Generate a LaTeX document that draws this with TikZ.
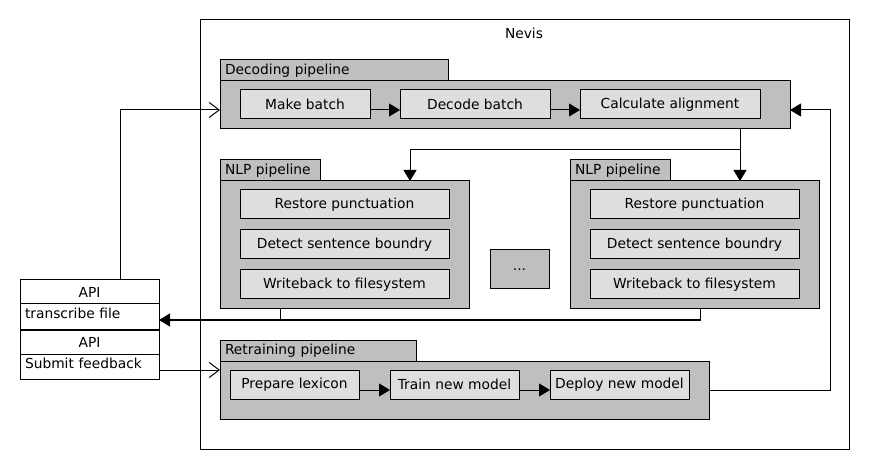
\documentclass[tikz,border=0pt]{standalone}
\usepackage{fontspec}
\setmainfont{DejaVu Sans}
\usetikzlibrary{arrows.meta,positioning}
\definecolor{pgray}{RGB}{191,191,191}
\definecolor{sgray}{RGB}{222,222,222}
\tikzset{
  base/.style={draw=black, line width=1pt, inner sep=0pt, anchor=north west, outer sep=0pt},
  outerbox/.style={base, fill=white},
  pipebody/.style={base, fill=pgray},
  pipetab/.style={base, fill=pgray, inner xsep=5pt, align=left},
  stepbox/.style={base, fill=sgray, align=center},
  apihead/.style={base, fill=white, align=center},
  apibody/.style={base, fill=white, inner xsep=5pt, align=left, text height=11pt, text depth=8pt},
  conn/.style={line width=1pt},
  farrow/.style={conn, -{Triangle[length=11pt,width=13pt]}},
  oarrow/.style={conn, -{Straight Barb[length=10pt,width=15pt,line width=1pt]}},
}
\begin{document}
\begin{tikzpicture}[x=1pt,y=-1pt, font=\fontsize{13.8}{16}\selectfont]
\useasboundingbox (0,0) rectangle (870,470);
% outer
\node[outerbox, minimum width=649pt, minimum height=429pt] (nevis) at (200,20) {};
\node (nevislbl) at (524,33) {Nevis};

% decoding pipeline
\node[pipetab, minimum height=21pt, text width=218pt] (dectab) at (220,60) {Decoding pipeline};
\node[pipebody, minimum width=570pt, minimum height=48pt] (decbody) at (220,81) {};
\node[stepbox, minimum width=130pt, minimum height=29pt] (make) at (240,90) {Make batch};
\node[stepbox, minimum width=150pt, minimum height=29pt] (decode) at (400,90) {Decode batch};
\node[stepbox, minimum width=180pt, minimum height=29pt] (calc) at (580,90) {Calculate alignment};

% NLP pipeline 1
\node[pipetab, minimum height=21pt, text width=90pt] (nlp1tab) at (220,160) {NLP pipeline};
\node[pipebody, minimum width=249pt, minimum height=128pt] (nlp1body) at (220,181) {};
\node[stepbox, minimum width=209pt, minimum height=29pt] (rp1) at (240,190) {Restore punctuation};
\node[stepbox, minimum width=209pt, minimum height=29pt] (ds1) at (240,230) {Detect sentence boundry};
\node[stepbox, minimum width=209pt, minimum height=29pt] (wb1) at (240,270) {Writeback to filesystem};

% dots
\node[pipebody, minimum width=59pt, minimum height=39pt] (dots) at (490,250) {};
\node (dotslbl) at (dots.center) {...};

% NLP pipeline 2
\node[pipetab, minimum height=21pt, text width=90pt] (nlp2tab) at (570,160) {NLP pipeline};
\node[pipebody, minimum width=249pt, minimum height=128pt] (nlp2body) at (570,181) {};
\node[stepbox, minimum width=209pt, minimum height=29pt] (rp2) at (590,190) {Restore punctuation};
\node[stepbox, minimum width=209pt, minimum height=29pt] (ds2) at (590,230) {Detect sentence boundry};
\node[stepbox, minimum width=209pt, minimum height=29pt] (wb2) at (590,270) {Writeback to filesystem};

% Retraining pipeline
\node[pipetab, minimum height=21pt, text width=186pt] (rettab) at (220,340) {Retraining pipeline};
\node[pipebody, minimum width=489pt, minimum height=58pt] (retbody) at (220,361) {};
\node[stepbox, minimum width=129pt, minimum height=29pt] (prep) at (230,370) {Prepare lexicon};
\node[stepbox, minimum width=129pt, minimum height=29pt] (train) at (390,370) {Train new model};
\node[stepbox, minimum width=139pt, minimum height=29pt] (deploy) at (550,370) {Deploy new model};

% API boxes
\node[apihead, minimum width=139pt, minimum height=24pt] (api1h) at (20,280) {API};
\node[apibody, minimum height=26pt, text width=129pt] (api1b) at (20,304) {transcribe file};
\node[apihead, minimum width=139pt, minimum height=24pt] (api2h) at (20,330) {API};
\node[apibody, minimum height=25pt, text width=129pt] (api2b) at (20,354) {Submit feedback};
\draw[line width=2pt] (api1b.south west) -- (api1b.south east);

% helper coordinates
\coordinate (y110) at (0,110);
\coordinate (y390) at (0,390);
\coordinate (y370) at (0,370);
\coordinate (y320) at (0,320);
\coordinate (j1) at (740,150);
\coordinate (x410) at (410,0);
\coordinate (x120) at (120,0);
\coordinate (x280) at (280,0);
\coordinate (x700) at (700,0);
\coordinate (x830) at (830,0);

% connectors
\draw[oarrow] (api1h.north -| x120) -- (x120 |- y110) -- (decbody.west |- y110);
\draw[farrow] (make.east |- y110) -- (decode.west |- y110);
\draw[farrow] (decode.east |- y110) -- (calc.west |- y110);
\draw[farrow] (decbody.south -| j1) -- (j1) -- (j1 -| x410) -- (nlp1body.north -| x410);
\draw[farrow] (j1) -- (nlp2body.north -| j1);
\draw[conn] (nlp1body.south -| x280) -- (x280 |- y320);
\draw[farrow] (nlp2body.south -| x700) -- (x700 |- y320) -- (api1b.east |- y320);
\draw[oarrow] (api2b.east |- y370) -- (retbody.west |- y370);
\draw[farrow] (prep.east |- y390) -- (train.west |- y390);
\draw[farrow] (train.east |- y390) -- (deploy.west |- y390);
\draw[farrow] (retbody.east |- y390) -- (x830 |- y390) -- (x830 |- y110) -- (decbody.east |- y110);
\end{tikzpicture}
\end{document}
